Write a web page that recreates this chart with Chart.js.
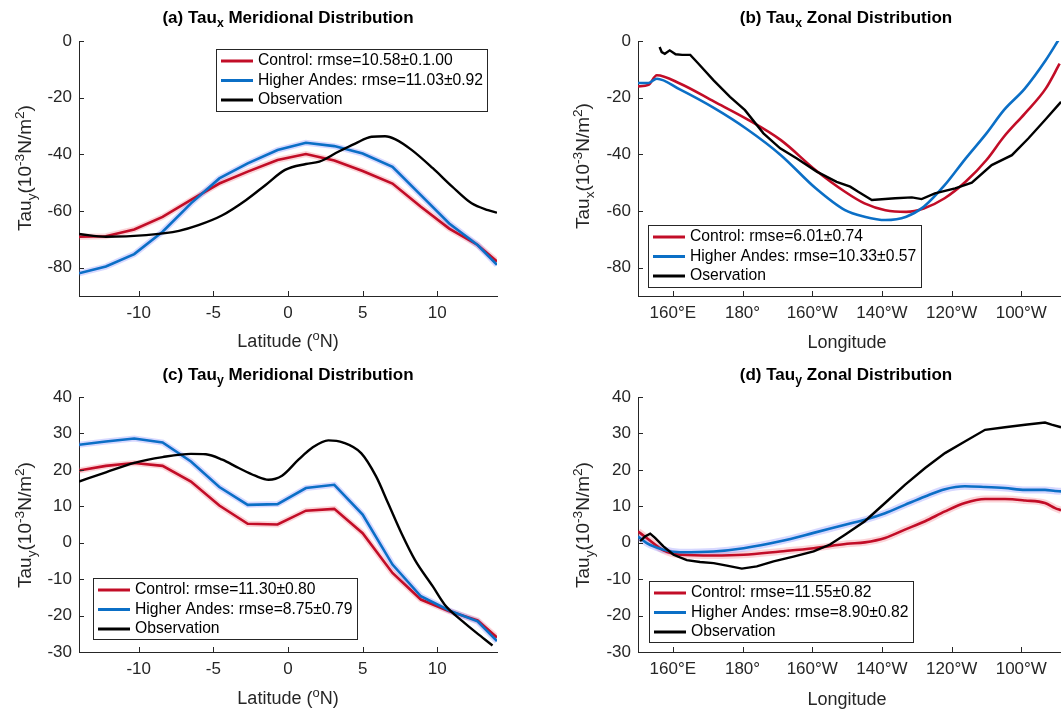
<!DOCTYPE html>
<html>
<head>
<meta charset="utf-8">
<script src="https://cdn.jsdelivr.net/npm/chart.js@4.4.0/dist/chart.umd.min.js"></script>
<style>
body{margin:0;background:#fff;width:1061px;height:709px;overflow:hidden;position:relative;font-family:"Liberation Sans",Arial,sans-serif;color:#262626}
canvas{position:absolute}
.t{position:absolute;transform:translate(-50%,-50%);white-space:nowrap}
.title{font-weight:bold;font-size:17px;color:#000}
.ax{font-size:18px}
.yt{font-size:19px;transform:translate(-50%,-50%) rotate(-90deg)}
sub,sup{font-size:72%;line-height:0}
</style>
</head>
<body>
<canvas id="ca" width="530" height="345" style="left:0;top:0"></canvas>
<canvas id="cb" width="580" height="345" style="left:530px;top:0"></canvas>
<canvas id="cc" width="530" height="345" style="left:0;top:356px"></canvas>
<canvas id="cd" width="580" height="345" style="left:530px;top:356px"></canvas>

<div class="t title" style="left:288px;top:18px">(a) Tau<sub>x</sub> Meridional Distribution</div>
<div class="t title" style="left:846px;top:18px">(b) Tau<sub>x</sub> Zonal Distribution</div>
<div class="t title" style="left:288px;top:375px">(c) Tau<sub>y</sub> Meridional Distribution</div>
<div class="t title" style="left:846px;top:375px">(d) Tau<sub>y</sub> Zonal Distribution</div>

<div class="t yt" style="left:25px;top:168px">Tau<sub>y</sub>(10<sup>-3</sup>N/m<sup>2</sup>)</div>
<div class="t yt" style="left:583px;top:166px">Tau<sub>x</sub>(10<sup>-3</sup>N/m<sup>2</sup>)</div>
<div class="t yt" style="left:25px;top:525px">Tau<sub>y</sub>(10<sup>-3</sup>N/m<sup>2</sup>)</div>
<div class="t yt" style="left:583px;top:525px">Tau<sub>y</sub>(10<sup>-3</sup>N/m<sup>2</sup>)</div>

<div class="t ax" style="left:288px;top:341px">Latitude (<sup>o</sup>N)</div>
<div class="t ax" style="left:847px;top:342px">Longitude</div>
<div class="t ax" style="left:288px;top:698px">Latitude (<sup>o</sup>N)</div>
<div class="t ax" style="left:847px;top:699px">Longitude</div>

<script>
// model latitude grid (panels a, c)
const latModel=[-14,-12.2,-10.3,-8.4,-6.5,-4.6,-2.7,-0.7,1.2,3.1,5.0,7.0,8.9,10.8,12.7,14];

// (a) Tau_x meridional
const ctrlA=[-69.1,-68.9,-66.5,-62.1,-56.1,-50.3,-46.1,-42,-39.9,-42.2,-45.9,-50.3,-58.5,-66.2,-72,-77.8];
const andesA=[-82,-79.6,-75.2,-67.3,-57.3,-48.5,-43.2,-38.5,-35.9,-37.1,-39.7,-44.4,-54.4,-64.4,-72,-79];
const latObsA=[-14,-12.2,-9.5,-7.3,-6,-4.4,-2.8,-1.5,-0.2,1.2,2.1,3.4,4.5,5.6,6.5,7.2,8.3,9.7,11,12.3,13.4,14];
const obsA=[-68.1,-69.1,-68.5,-67,-65,-61.5,-56.1,-50.8,-45.5,-43.4,-42.6,-39,-36.2,-33.8,-33.6,-34.7,-38.5,-44.9,-51.4,-57.3,-59.7,-60.6];

// (c) Tau_y meridional
const ctrlC=[19.8,21.1,21.9,21.1,16.8,10.2,5.2,5,8.8,9.3,2.6,-8.3,-15.6,-18.8,-21.3,-26];
const andesC=[26.9,27.8,28.6,27.5,22.3,15.3,10.4,10.6,15,15.9,7.7,-6,-14.7,-18.6,-21.6,-27];
const latObsC=[-14,-12.2,-10.3,-8.4,-6.5,-5.5,-4.4,-3.3,-2.2,-1.3,-0.4,0.7,1.6,2.7,3.7,4.9,5.9,6.7,7.6,8.5,9.7,10.5,11.7,12.8,13.7];
const obsC=[16.8,19.3,21.9,23.5,24.4,24.3,22.8,20.5,18.4,17.3,18.4,22.8,26,28.1,27.5,24.6,18.2,10.9,2.6,-4.7,-12,-17,-21.6,-25.3,-28.2];

// (b) Tau_x zonal  (longitude in degrees east, 0-360)
const lonModelB=[150,153,155.4,162,172,181,191,201,209.4,215,221,227,232,238,244,250,255,261,267,271];
const ctrlB=[-16,-15.5,-12.1,-15,-21.5,-27.4,-35,-45.6,-53.2,-57.3,-59.7,-60.3,-59.1,-55.5,-49.7,-42,-33.8,-25.6,-16.8,-8];
const andesB=[-14.8,-14.8,-13.3,-17.1,-23.8,-30.9,-40.3,-52,-59.7,-62,-63.2,-62,-58.5,-50.9,-41.5,-32.6,-24.4,-16.8,-6.8,1];
const lonObsB=[156.2,156.8,157.7,159.1,160.8,162.7,165,166.9,171.7,176.4,180.7,186,190.8,195.6,201.3,207,210.9,213.2,217.1,223.8,228.6,231.4,235.2,241,245.8,251.5,257.3,262,266.8,271.4];
const obsB=[-2.1,-3.9,-4.5,-3.3,-4.7,-4.9,-4.9,-7.4,-13.9,-19.7,-24.4,-32.6,-37.9,-41.5,-46.1,-49.7,-51.4,-53.2,-56.1,-55.5,-55.2,-55.8,-53.8,-52,-50,-43.8,-40.3,-34.4,-27.9,-21.5];

// (d) Tau_y zonal
const lonModelD=[150,152.5,157.3,162.1,171.7,180.3,190.8,200.4,210,215.1,220.9,226.6,232.4,238.1,243.8,249.6,255.3,261.1,266.8,269.7,271.4];
const ctrlD=[3.1,1.3,-2.1,-3.3,-3.5,-3.3,-2.4,-1.5,-0.3,0.1,1.3,3.6,5.9,8.6,10.9,12,12,11.6,10.9,9.5,8.9];
const andesD=[1.7,-0.1,-1.9,-2.6,-2.4,-1.5,0.4,2.7,5.1,6.3,8.1,10.4,12.7,14.7,15.5,15.3,15,14.5,14.5,14.2,14.1];
const lonObsD=[150.6,152,153.5,154.9,157.3,160.2,164,167.8,171.7,175.5,179.8,184.1,188.9,194.6,200.4,205.1,209.4,215.1,220.9,226.6,232.4,238.1,243.8,249.6,255.3,261.1,266.8,268.7,271.4];
const obsD=[0.4,1.7,2.5,1.3,-1,-3.3,-4.8,-5.3,-5.6,-6.3,-7.1,-6.5,-5.1,-3.8,-2.4,-0.5,2.2,5.9,10.9,15.9,20.5,24.6,27.8,31,31.7,32.4,33,32.4,31.7];

// ticks
const latTicks=[-10,-5,0,5,10];
const lonTicks=[160,180,200,220,240,260,280];
const lonTickLabels=['160°E','180°','160°W','140°W','120°W','100°W','80°W'];
const tauxTicks=[0,-20,-40,-60,-80];
const tauyTicks=[40,30,20,10,0,-10,-20,-30];

const legA=['Control: rmse=10.58±0.1.00','Higher Andes: rmse=11.03±0.92','Observation'];
const legB=['Control: rmse=6.01±0.74','Higher Andes: rmse=10.33±0.57','Oservation'];
const legC=['Control: rmse=11.30±0.80','Higher Andes: rmse=8.75±0.79','Observation'];
const legD=['Control: rmse=11.55±0.82','Higher Andes: rmse=8.90±0.82','Observation'];

const RED='#c20d27', BLUE='#0b6fc6', BLACK='#000';
const FONT='"Liberation Sans", Arial, sans-serif';

const pts=(xs,ys)=>xs.map((x,i)=>({x:x,y:ys[i]}));

// little inward tick marks like matlab
const innerTicks={id:'innerTicks',afterDatasetsDraw(chart){
  const {ctx,chartArea:a,scales}=chart;
  ctx.save();ctx.strokeStyle='#262626';ctx.lineWidth=1;ctx.beginPath();
  scales.x.ticks.forEach(t=>{const px=Math.round(scales.x.getPixelForValue(t.value))+0.5;
    if(px>a.left+1&&px<a.right){ctx.moveTo(px,a.bottom);ctx.lineTo(px,a.bottom-5);}});
  scales.y.ticks.forEach(t=>{const py=Math.round(scales.y.getPixelForValue(t.value))+0.5;
    if(py<a.bottom-1){ctx.moveTo(a.left,py);ctx.lineTo(a.left+5,py);}});
  ctx.stroke();ctx.restore();
}};

// boxed legend drawn inside the axes
const boxLegend={id:'boxLegend',afterDraw(chart,args,o){
  const ctx=chart.ctx;
  ctx.save();
  ctx.fillStyle='#fff';ctx.fillRect(o.x,o.y,o.w,o.h);
  ctx.strokeStyle='#262626';ctx.lineWidth=1;ctx.strokeRect(o.x+0.5,o.y+0.5,o.w,o.h);
  chart.data.datasets.filter(d=>d.inLegend).forEach((d,i)=>{
    const ry=o.y+12+i*19.5;
    ctx.strokeStyle=d.borderColor;ctx.lineWidth=3;
    ctx.beginPath();ctx.moveTo(o.x+5,ry);ctx.lineTo(o.x+37,ry);ctx.stroke();
    ctx.fillStyle='#000';ctx.font='15.7px '+FONT;ctx.textBaseline='middle';
    ctx.fillText(d.label,o.x+42,ry);
  });
  ctx.restore();
}};

function panel(id,p){
  const smoothModel=p.smoothModel;
  const modelStyle=smoothModel?{cubicInterpolationMode:'monotone'}:{tension:0};
  const ds=[
    Object.assign({label:p.leg[0],data:pts(p.mx,p.ctrl),borderColor:RED,borderWidth:2.6,order:2,inLegend:true},modelStyle),
    Object.assign({label:p.leg[1],data:pts(p.mx,p.andes),borderColor:BLUE,borderWidth:2.6,order:1,inLegend:true},modelStyle),
    Object.assign({label:p.leg[2],data:pts(p.ox,p.obs),borderColor:BLACK,borderWidth:2.4,order:0,inLegend:true},p.smoothObs?{cubicInterpolationMode:'monotone'}:{tension:0})
  ];
  if(p.halo){
    ds.push(Object.assign({label:'',data:pts(p.mx,p.ctrl),borderColor:'rgba(240,100,115,0.28)',borderWidth:p.halo,order:4},modelStyle));
    ds.push(Object.assign({label:'',data:pts(p.mx,p.andes),borderColor:'rgba(110,115,255,0.28)',borderWidth:p.halo,order:3},modelStyle));
  }
  ds.forEach(d=>{d.pointRadius=0;d.fill=false;});
  const tickFont={family:FONT,size:17};
  return new Chart(document.getElementById(id),{
    type:'line',
    data:{datasets:ds},
    options:{
      responsive:false,animation:false,
      layout:{padding:{left:0,top:41,right:p.padRight,bottom:0}},
      plugins:{legend:{display:false},tooltip:{enabled:false},boxLegend:p.box},
      scales:{
        x:{type:'linear',min:p.xmin,max:p.xmax,
          grid:{display:false,drawTicks:false},
          border:{display:true,color:'#262626',width:1},
          afterBuildTicks:s=>{s.ticks=p.xt.map(v=>({value:v}));},
          afterFit:s=>{s.height=49;s.paddingLeft=0;s.paddingRight=0;},
          ticks:{padding:7,color:'#262626',font:tickFont,maxRotation:0,autoSkip:false,
            callback:(v)=>p.xl?p.xl[p.xt.indexOf(v)]:String(v)}},
        y:{type:'linear',min:p.ymin,max:p.ymax,
          grid:{display:false,drawTicks:false},
          border:{display:true,color:'#262626',width:1},
          afterBuildTicks:s=>{s.ticks=p.yt.map(v=>({value:v}));},
          afterFit:s=>{s.width=p.yw;s.paddingTop=0;s.paddingBottom=0;},
          ticks:{padding:7,color:'#262626',font:tickFont,autoSkip:false,callback:v=>String(v)}}
      }
    },
    plugins:[innerTicks,boxLegend]
  });
}

panel('ca',{mx:latModel,ctrl:ctrlA,andes:andesA,ox:latObsA,obs:obsA,leg:legA,
  xmin:-14,xmax:14,xt:latTicks,ymin:-90,ymax:0,yt:tauxTicks,yw:79,padRight:33,
  smoothModel:false,smoothObs:true,halo:6,box:{x:216,y:49,w:271,h:62}});
panel('cb',{mx:lonModelB,ctrl:ctrlB,andes:andesB,ox:lonObsB,obs:obsB,leg:legB,
  xmin:150,xmax:280,xt:lonTicks,xl:lonTickLabels,ymin:-90,ymax:0,yt:tauxTicks,yw:108,padRight:19,
  smoothModel:true,smoothObs:false,halo:0,box:{x:118,y:225,w:273,h:62}});
panel('cc',{mx:latModel,ctrl:ctrlC,andes:andesC,ox:latObsC,obs:obsC,leg:legC,
  xmin:-14,xmax:14,xt:latTicks,ymin:-30,ymax:40,yt:tauyTicks,yw:79,padRight:33,
  smoothModel:false,smoothObs:true,halo:6,box:{x:93,y:222,w:264,h:61}});
panel('cd',{mx:lonModelD,ctrl:ctrlD,andes:andesD,ox:lonObsD,obs:obsD,leg:legD,
  xmin:150,xmax:280,xt:lonTicks,xl:lonTickLabels,ymin:-30,ymax:40,yt:tauyTicks,yw:108,padRight:19,
  smoothModel:true,smoothObs:false,halo:7,box:{x:119,y:225,w:264,h:61}});
</script>
</body>
</html>
